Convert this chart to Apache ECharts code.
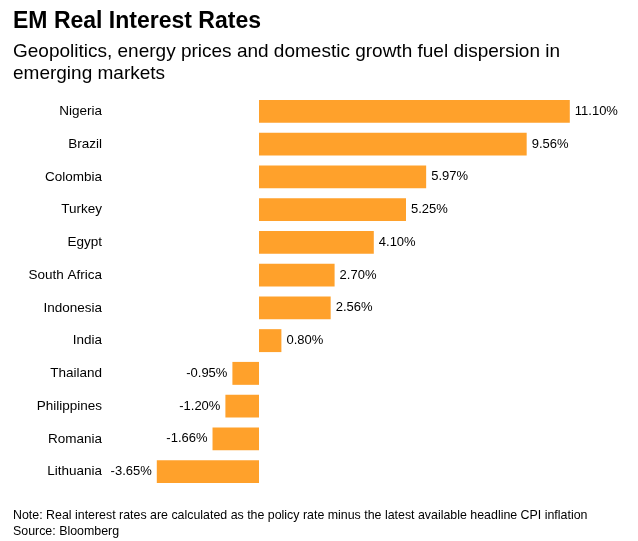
<!DOCTYPE html>
<html>
<head>
<meta charset="utf-8">
<style>
  html, body { margin: 0; padding: 0; background: #fff; }
  #chart { width: 638px; height: 541px; }
</style>
<script src="https://cdn.jsdelivr.net/npm/echarts@6/dist/echarts.min.js"></script>
</head>
<body>
<div id="chart"></div>
<script>
// 数据
var countries = ['Nigeria', 'Brazil', 'Colombia', 'Turkey', 'Egypt', 'South Africa',
  'Indonesia', 'India', 'Thailand', 'Philippines', 'Romania', 'Lithuania'];
var rates = [11.10, 9.56, 5.97, 5.25, 4.10, 2.70, 2.56, 0.80, -0.95, -1.20, -1.66, -3.65];

var font = '"Liberation Sans", Arial, sans-serif';
var myChart = echarts.init(document.getElementById('chart'));

var option = {
    animation: false,
    textStyle: { fontFamily: font },
    title: [{
        text: 'EM Real Interest Rates',
        left: 13, top: 10, padding: 0,
        textStyle: { fontSize: 23, fontWeight: 'bold', color: '#000', fontFamily: font }
    }, {
        text: 'Geopolitics, energy prices and domestic growth fuel dispersion in\nemerging markets',
        left: 13, top: 41, padding: 0,
        textStyle: { fontSize: 19, fontWeight: 'normal', color: '#000', lineHeight: 22, fontFamily: font }
    }, {
        text: 'Note: Real interest rates are calculated as the policy rate minus the latest available headline CPI inflation\nSource: Bloomberg',
        left: 13, top: 508, padding: 0,
        textStyle: { fontSize: 12.4, fontWeight: 'normal', color: '#000', lineHeight: 16, fontFamily: font }
    }],
    grid: { left: 147, right: 43, top: 95, bottom: 53 },
    xAxis: {
        type: 'value',
        min: -4, max: 12,
        axisLabel: { show: false },
        axisLine: { show: false },
        axisTick: { show: false },
        splitLine: { show: false }
    },
    yAxis: {
        type: 'category',
        data: countries,
        inverse: true,
        axisLine: { show: false },
        axisTick: { show: false },
        axisLabel: { margin: 45, fontSize: 13.5, color: '#000', fontFamily: font }
    },
    series: [{
        type: 'bar',
        data: rates.map(function (v) {
            return {
                value: v,
                label: { position: v >= 0 ? 'right' : 'left' }
            };
        }),
        barCategoryGap: '30%',
        itemStyle: { color: '#FFA12B' },
        label: {
            show: true,
            distance: 5,
            fontSize: 13,
            color: '#000',
            fontFamily: font,
            formatter: function (p) { return p.value.toFixed(2) + '%'; }
        }
    }]
};

myChart.setOption(option);
</script>
</body>
</html>
